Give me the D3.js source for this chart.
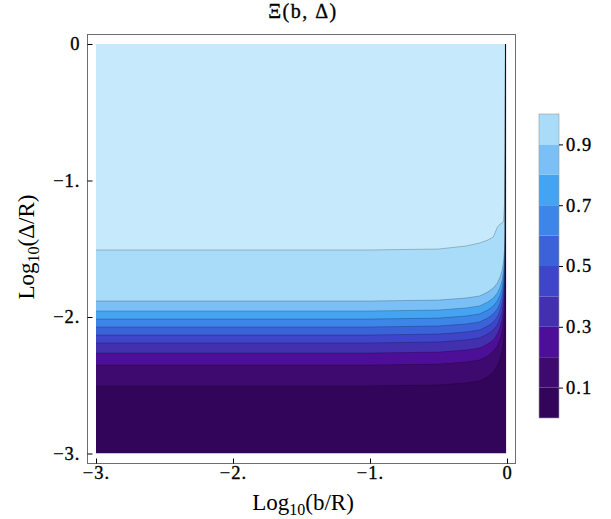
<!DOCTYPE html>
<html>
<head>
<meta charset="utf-8">
<script src="https://cdn.jsdelivr.net/npm/d3@7"></script>
<style>
  body { margin: 0; background: #fff; }
  text { font-family: "Liberation Serif", "Times New Roman", serif; fill: #000; }
  .heavy { stroke: #000; stroke-width: 0.35px; }
</style>
</head>
<body>
<div id="graph"></div>
<script>
// sample positions along Log10(b/R)
const xLogB = [-3, -1, -0.5, -0.3, -0.2, -0.14, -0.1, -0.07, -0.05, -0.035, -0.025, -0.018, -0.013, -0.011];

// contour lines, Log10(Delta/R) at each xLogB, one array per level
const yLevel01 = [-2.505, -2.505, -2.498, -2.483, -2.468, -2.439, -2.402, -2.358, -2.307, -2.249, -2.175, -2.080, -1.955, 0];
const yLevel02 = [-2.352, -2.352, -2.345, -2.330, -2.315, -2.286, -2.249, -2.213, -2.162, -2.103, -2.030, -1.934, -1.810, 0];
const yLevel03 = [-2.264, -2.264, -2.257, -2.242, -2.227, -2.198, -2.169, -2.125, -2.074, -2.022, -1.949, -1.854, -1.729, 0];
const yLevel04 = [-2.190, -2.190, -2.183, -2.168, -2.153, -2.124, -2.095, -2.058, -2.007, -1.956, -1.882, -1.787, -1.663, 0];
const yLevel05 = [-2.132, -2.132, -2.125, -2.110, -2.095, -2.066, -2.037, -2.000, -1.949, -1.898, -1.824, -1.736, -1.605, 0];
const yLevel06 = [-2.073, -2.073, -2.066, -2.051, -2.036, -2.007, -1.978, -1.941, -1.897, -1.839, -1.773, -1.677, -1.553, 0];
const yLevel07 = [-2.015, -2.015, -2.008, -1.993, -1.978, -1.949, -1.920, -1.883, -1.839, -1.788, -1.715, -1.627, -1.495, 0];
const yLevel08 = [-1.956, -1.956, -1.949, -1.934, -1.919, -1.890, -1.861, -1.824, -1.780, -1.729, -1.663, -1.568, -1.443, 0];
const yLevel09 = [-1.883, -1.883, -1.876, -1.861, -1.846, -1.817, -1.788, -1.751, -1.707, -1.656, -1.590, -1.502, -1.370, 0];
const yLevel10 = [-1.509, -1.509, -1.502, -1.480, -1.458, -1.436, -1.414, -1.341, -1.319, -1.311, -1.297, -1.165, -0.777, 0];

const levels = [0.1, 0.2, 0.3, 0.4, 0.5, 0.6, 0.7, 0.8, 0.9, 1.0];
const bandColors = ["#32055a", "#3f0a70", "#4d0f98", "#4230ae", "#3e45c9", "#3c62d9",
                    "#3d85e6", "#45a4f2", "#7ac0f6", "#a9dcf9", "#c6eafc"];

const xTicks = [-3, -2, -1, 0];
const xTickLabels = ["\u22123.", "\u22122.", "\u22121.", "0"];
const yTicks = [0, -1, -2, -3];
const yTickLabels = ["0", "\u22121.", "\u22122.", "\u22123."];
const barTicks = [0.1, 0.3, 0.5, 0.7, 0.9];

const contourYs = [yLevel01, yLevel02, yLevel03, yLevel04, yLevel05,
                   yLevel06, yLevel07, yLevel08, yLevel09, yLevel10];

const W = 611, H = 519;
const frame = {left: 87, right: 515, top: 34, bottom: 463};

const x = d3.scaleLinear().domain([-3, 0]).range([96, 507]);
const y = d3.scaleLinear().domain([0, -3]).range([44, 453.5]);

const svg = d3.select("#graph")
    .append("svg")
    .attr("width", W)
    .attr("height", H);

// fill stops just past the last contour column
const clipRight = x(-0.011) + 0.6;
svg.append("clipPath").attr("id", "clip")
  .append("rect")
    .attr("x", x(-3)).attr("y", y(0))
    .attr("width", clipRight - x(-3)).attr("height", y(-3) - y(0));

const plot = svg.append("g").attr("clip-path", "url(#clip)");

// lowest band covers everything, higher bands painted above each contour
plot.append("rect")
    .attr("x", x(-3)).attr("y", y(0))
    .attr("width", x(0) - x(-3)).attr("height", y(-3) - y(0))
    .attr("fill", bandColors[0]);

const area = d3.area()
    .x(function(d) { return x(d[0]); })
    .y0(y(0))
    .y1(function(d) { return y(d[1]); });

const line = d3.line()
    .x(function(d) { return x(d[0]); })
    .y(function(d) { return y(d[1]); });

const lineData = contourYs.map(function(ys) {
  return xLogB.map(function(v, i) { return [v, ys[i]]; });
});

plot.selectAll(".band")
    .data(lineData)
    .enter().append("path")
    .attr("class", "band")
    .attr("d", area)
    .attr("fill", function(d, i) { return bandColors[i + 1]; });

plot.selectAll(".contour")
    .data(lineData)
    .enter().append("path")
    .attr("class", "contour")
    .attr("d", line)
    .attr("fill", "none")
    .attr("stroke", "#000")
    .attr("stroke-opacity", 0.22)
    .attr("stroke-width", 1);

// frame
svg.append("rect")
    .attr("x", frame.left + 0.5).attr("y", frame.top + 0.5)
    .attr("width", frame.right - frame.left).attr("height", frame.bottom - frame.top)
    .attr("fill", "none")
    .attr("stroke", "#6e6e6e")
    .attr("stroke-width", 1);

// axes with ticks pointing inward
const xAxis = svg.append("g")
    .attr("transform", "translate(0," + (frame.bottom + 0.5) + ")")
    .call(d3.axisBottom(x).tickValues(xTicks)
        .tickFormat(function(d, i) { return xTickLabels[i]; })
        .tickSizeInner(-5).tickSizeOuter(0).tickPadding(2));

const yAxis = svg.append("g")
    .attr("transform", "translate(" + (frame.left + 0.5) + ",0)")
    .call(d3.axisLeft(y).tickValues(yTicks)
        .tickFormat(function(d, i) { return yTickLabels[i]; })
        .tickSizeInner(-5).tickSizeOuter(0).tickPadding(7));

[xAxis, yAxis].forEach(function(g) {
  g.select(".domain").remove();
  g.attr("font-family", null).attr("font-size", null);
  g.selectAll("line").attr("stroke", "#000");
  g.selectAll("text").attr("class", "heavy")
      .style("font-size", "18.5px").style("letter-spacing", "1px");
});

// title and axis labels
svg.append("text")
    .attr("class", "heavy")
    .attr("x", 303).attr("y", 18)
    .attr("text-anchor", "middle")
    .style("font-size", "20px")
    .style("letter-spacing", "1.5px")
    .text("\u039E(b, \u0394)");

const xTitle = svg.append("text")
    .attr("x", 303).attr("y", 510)
    .attr("text-anchor", "middle")
    .style("font-size", "23px");
xTitle.append("tspan").text("Log");
xTitle.append("tspan").attr("dy", 5).style("font-size", "16px").text("10");
xTitle.append("tspan").attr("dy", -5).text("(b/R)");

const yTitle = svg.append("text")
    .attr("transform", "translate(34,247) rotate(-90)")
    .attr("text-anchor", "middle")
    .style("font-size", "23px");
yTitle.append("tspan").text("Log");
yTitle.append("tspan").attr("dy", 5).style("font-size", "16px").text("10");
yTitle.append("tspan").attr("dy", -5).text("(\u0394/R)");

// colour bar
const bar = {left: 539, right: 559};
const c = d3.scaleLinear().domain([0, 1]).range([418, 114]);

svg.selectAll(".cb")
    .data(levels)
    .enter().append("rect")
    .attr("class", "cb")
    .attr("x", bar.left)
    .attr("y", function(d) { return c(d); })
    .attr("width", bar.right - bar.left)
    .attr("height", function(d) { return c(d - 0.1) - c(d); })
    .attr("fill", function(d, i) { return bandColors[i]; });

svg.append("rect")
    .attr("x", bar.left).attr("y", c(1))
    .attr("width", bar.right - bar.left).attr("height", c(0) - c(1))
    .attr("fill", "none")
    .attr("stroke", "#9a9a9a")
    .attr("stroke-width", 0.6);

const cAxis = svg.append("g")
    .attr("transform", "translate(" + bar.right + ",0)")
    .call(d3.axisRight(c).tickValues(barTicks)
        .tickFormat(d3.format(".1f"))
        .tickSizeInner(4).tickSizeOuter(0).tickPadding(3));
cAxis.select(".domain").remove();
cAxis.attr("font-family", null).attr("font-size", null);
cAxis.selectAll("line").attr("stroke", "#000");
cAxis.selectAll("text").attr("class", "heavy")
    .style("font-size", "18.5px").style("letter-spacing", "1px");
</script>
</body>
</html>
